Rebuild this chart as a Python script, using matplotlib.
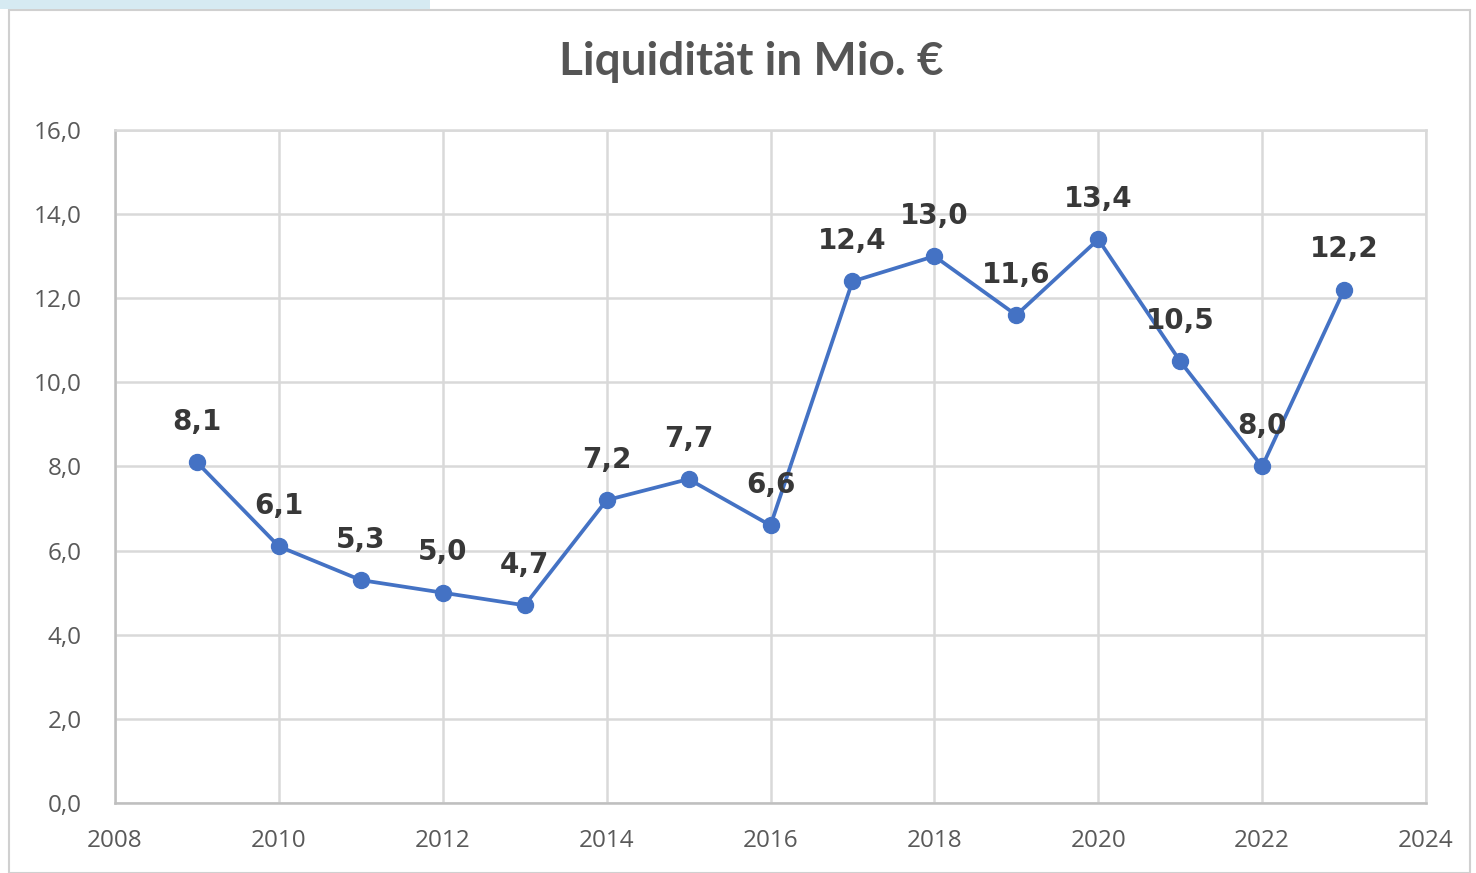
import matplotlib
matplotlib.use("Agg")
import matplotlib.pyplot as plt
from matplotlib.patches import Rectangle

years = [2009, 2010, 2011, 2012, 2013, 2014, 2015, 2016, 2017, 2018, 2019, 2020, 2021, 2022, 2023]
values = [8.1, 6.1, 5.3, 5.0, 4.7, 7.2, 7.7, 6.6, 12.4, 13.0, 11.6, 13.4, 10.5, 8.0, 12.2]
labels = ["8,1", "6,1", "5,3", "5,0", "4,7", "7,2", "7,7", "6,6", "12,4", "13,0", "11,6", "13,4", "10,5", "8,0", "12,2"]
title = "Liquidität in Mio. €"

fig = plt.figure(figsize=(14.76, 8.73), dpi=100)
W, H = 1476, 873
# chart frame
fig.patches.append(Rectangle((9 / W, 0), (1470 - 9) / W, (873 - 10) / H, transform=fig.transFigure,
                             facecolor="none", edgecolor="#D0D0D0", linewidth=1.5, zorder=-1))
fig.patches.append(Rectangle((0, (873 - 9) / H), 430 / W, 9 / H, transform=fig.transFigure,
                             facecolor="#D6EAF2", edgecolor="none", zorder=-1))

ax = fig.add_axes([115 / W, (873 - 803) / H, (1426 - 115) / W, (803 - 130) / H])
ax.set_xlim(2008, 2024)
ax.set_ylim(0, 16)
ax.set_xticks(range(2008, 2025, 2))
ax.set_yticks(range(0, 17, 2))
ax.set_yticklabels([f"{v},0" for v in range(0, 17, 2)])
ax.grid(True, color="#D9D9D9", linewidth=1.8)
ax.set_axisbelow(True)
for s in ax.spines.values():
    s.set_color("#D9D9D9")
    s.set_linewidth(1.8)
ax.spines["bottom"].set_color("#BFBFBF")
ax.spines["left"].set_color("#BFBFBF")
ax.tick_params(length=0, labelsize=17.5, labelcolor="#595959")
ax.tick_params(axis="x", pad=19)
ax.tick_params(axis="y", pad=24)
for t in ax.get_xticklabels() + ax.get_yticklabels():
    t.set_fontfamily("Open Sans")

ax.plot(years, values, color="#4472C4", linewidth=2.7, marker="o", markersize=11.5,
        markerfacecolor="#4472C4", markeredgecolor="#4472C4", zorder=3)
for x, y, l in zip(years, values, labels):
    ax.annotate(l, (x, y), xytext=(0, 19), textcoords="offset points", ha="center", va="bottom",
                fontsize=20, fontweight="bold", color="#383838", fontfamily="DejaVu Sans", zorder=4)

fig.text((557 + 945) / 2 / W, 1 - 62 / H, title, ha="center", va="center", fontsize=33,
         fontweight="bold", color="#555555", fontfamily="Lato")

fig.savefig("out.png", dpi=100)
